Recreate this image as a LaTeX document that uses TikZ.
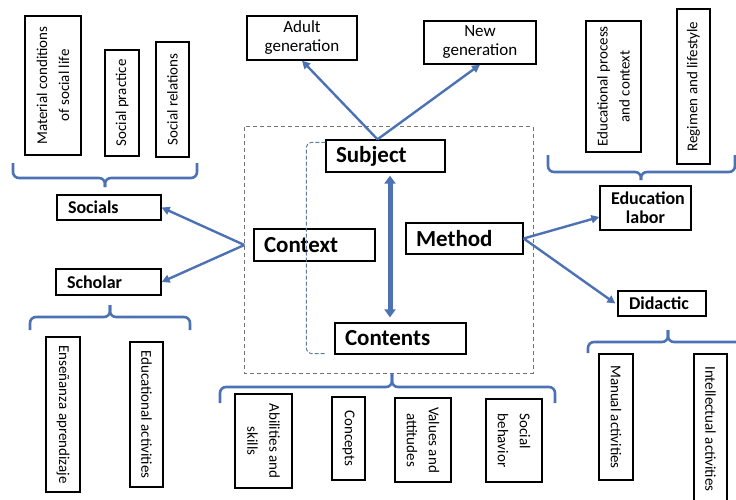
\documentclass[tikz,border=0pt]{standalone}
\usepackage{fontspec}
\setmainfont{Carlito}
\usetikzlibrary{arrows.meta}
\definecolor{lineblue}{RGB}{76,114,180}
\definecolor{framegray}{RGB}{115,115,115}
\definecolor{loopblue}{RGB}{95,125,155}

\begin{document}
\begin{tikzpicture}[x=1pt,y=-1pt,
  box/.style={rectangle,draw=black,line width=1.3pt,inner sep=0pt,align=center},
  main/.style={box,font=\fontsize{23}{26}\selectfont\bfseries,inner xsep=10pt,align=left,minimum height=32pt},
  sub/.style={box,font=\fontsize{18}{19}\selectfont\bfseries,inner xsep=11pt,align=left,minimum height=25pt},
  gen/.style={box,font=\fontsize{17}{19}\selectfont},
  vbox/.style={box,font=\fontsize{15}{22}\selectfont},
  arr/.style={draw=lineblue,line width=2.4pt,-{Triangle[length=8pt,width=8pt]}},
  dbl/.style={draw=lineblue,line width=5pt,{Triangle[length=8pt,width=11pt]}-{Triangle[length=8pt,width=11pt]}},
  grp/.style={draw=lineblue,line width=2.6pt,rounded corners=6pt},
  frame/.style={draw=framegray,line width=1pt,dash pattern=on 4pt off 3pt},
  loopline/.style={draw=loopblue,line width=1pt,dash pattern=on 4pt off 2pt,rounded corners=5pt}]

\useasboundingbox (0,0) rectangle (736,500);

% core of the model
\draw[frame] (244,127) rectangle (533,373);
\node[main,text width=99pt] (subj) at (385.5,156) {Subject};
\node[main,text width=101pt] (ctxt) at (314.5,245) {Context};
\node[main,text width=97pt,minimum height=31pt] (mthd) at (464.5,238.5) {Method};
\node[main,text width=111pt,minimum height=31pt] (cont) at (400.5,338.5) {Contents};
\draw[loopline] ([yshift=-3pt]subj.north west) -| ([xshift=-28pt,yshift=1pt]cont.south west) -- ([xshift=-8pt,yshift=1pt]cont.south west);
\draw[dbl] ([xshift=4.5pt,yshift=-3pt]subj.south) -- ([xshift=-10.5pt,yshift=5pt]cont.north);

% subject
\node[gen,minimum width=110pt,minimum height=44pt] (adlt) at (302,38) {Adult\\generation};
\node[gen,minimum width=112pt,minimum height=43pt] (newg) at (480,42.5) {New\\generation};
\draw[arr] ([xshift=-8pt]subj.north) -- (adlt.south);
\draw[arr] ([xshift=-8pt]subj.north) -- (newg.south);

% context
\node[sub,text width=82pt] (socl) at (109,207.5) {Socials};
\node[sub,text width=83pt,minimum height=26pt] (schl) at (108.5,282) {Scholar};
\draw[arr] ([xshift=-9pt]ctxt.west) -- (socl.east);
\draw[arr] ([xshift=-9pt]ctxt.west) -- (schl.east);

\node[vbox,rotate=90,minimum width=139pt,minimum height=56pt] (matl) at (53,85.5) {Material conditions\\of social life};
\node[vbox,rotate=90,minimum width=106pt,minimum height=34pt] (spra) at (122,103) {Social practice};
\node[vbox,rotate=90,minimum width=115pt,minimum height=33pt] (srel) at (172.5,99.5) {Social relations};
\draw[grp] (13,163) |- (105,178) -- (105,187);
\draw[grp] (197,163) |- (105,178) -- (105,187);

\draw[grp] (30,330) |- (110,317) -- (110,305);
\draw[grp] (190,330) |- (110,317) -- (110,305);
\node[vbox,rotate=-90,minimum width=155pt,minimum height=34pt] (ensn) at (63,414.5) {Enseñanza aprendizaje};
\node[vbox,rotate=-90,minimum width=145pt,minimum height=33pt] (edac) at (146.5,414.5) {Educational activities};

% contents
\draw[grp] (220,403) |- (392,387) -- (392,373);
\draw[grp] (555,403) |- (392,387) -- (392,373);
\node[vbox,rotate=-90,minimum width=94pt,minimum height=57pt] (abil) at (263.5,441) {Abilities and\\skills};
\node[vbox,rotate=-90,minimum width=83pt,minimum height=33pt] (cncp) at (348.5,438.5) {Concepts};
\node[vbox,rotate=-90,minimum width=84pt,minimum height=56pt] (valu) at (423,440) {Values and\\attitudes};
\node[vbox,rotate=-90,minimum width=83pt,minimum height=56pt,align=left] (sbeh) at (514,440.5) {Social\\behavior};

% method
\node[sub,text width=69pt,minimum height=44pt,align=center] (edul) at (645.5,208) {Education\\labor};
\node[sub,text width=66pt] (didc) at (662,303.5) {Didactic};
\draw[arr] (mthd.east) -- ([yshift=-9pt]edul.west);
\draw[arr] (mthd.east) -- ([xshift=-2pt]didc.west);

\node[vbox,rotate=90,minimum width=131pt,minimum height=55pt] (edpr) at (613.5,86.5) {Educational process\\and context};
\node[vbox,rotate=90,minimum width=155pt,minimum height=33pt] (regm) at (693.5,86.5) {Regimen and lifestyle};
\draw[grp] (548,155) |- (641,172) -- (641,180);
\draw[grp] (735,155) |- (641,172) -- (641,180);

\draw[grp] (588,353) |- (668,342) -- (668,330);
\draw[grp] (748,353) |- (668,342) -- (668,330);
\node[vbox,rotate=-90,minimum width=126pt,minimum height=34pt] (manu) at (616,417) {Manual activities};
\node[vbox,rotate=-90,minimum width=150pt,minimum height=33pt] (intl) at (710.5,429) {Intellectual activities};
\end{tikzpicture}
\end{document}
